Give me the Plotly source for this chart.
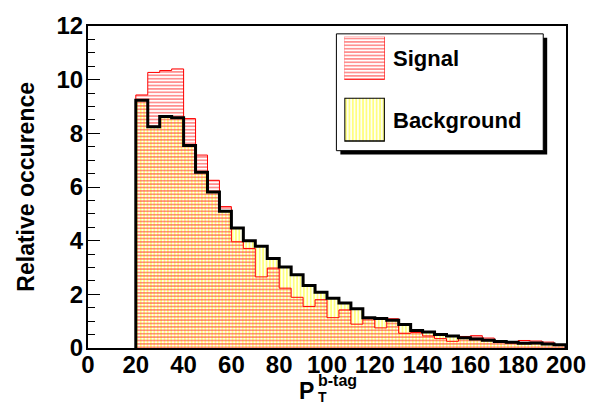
import plotly.graph_objects as go

# ---- data -------------------------------------------------------------
bin_left = [20, 25, 30, 35, 40, 45, 50, 55, 60, 65, 70, 75, 80, 85, 90, 95,
            100, 105, 110, 115, 120, 125, 130, 135, 140, 145, 150, 155, 160,
            165, 170, 175, 180, 185, 190, 195]
bin_width = 5

background = [9.23, 8.25, 8.63, 8.58, 7.55, 6.55, 5.81, 5.10, 4.47, 4.00,
              3.79, 3.34, 3.02, 2.73, 2.33, 2.08, 1.85, 1.68, 1.46, 1.13,
              1.10, 1.03, 0.88, 0.65, 0.60, 0.50, 0.45, 0.38, 0.34, 0.29,
              0.24, 0.21, 0.18, 0.19, 0.15, 0.12]

signal = [9.43, 10.27, 10.34, 10.40, 8.55, 7.19, 6.25, 5.27, 3.96, 3.71,
          2.65, 2.98, 2.23, 1.89, 1.55, 1.80, 1.13, 1.42, 0.89, 1.09,
          0.75, 1.09, 0.55, 0.58, 0.45, 0.35, 0.25, 0.43, 0.46, 0.37,
          0.24, 0.18, 0.28, 0.26, 0.22, 0.12]

x_ticks = [0, 20, 40, 60, 80, 100, 120, 140, 160, 180, 200]
y_ticks = [0, 2, 4, 6, 8, 10, 12]

FONT = "Liberation Sans"
RED_HATCH = "#ff3030"
YEL_HATCH = "#ffff00"

centers = [b + bin_width / 2 for b in bin_left]


def step_xy(vals):
    xs = [bin_left[0]] + list(bin_left) + [bin_left[-1] + bin_width]
    ys = [0] + list(vals) + [0]
    return xs, ys


def bold(s):
    return "<b>%s</b>" % s


fig = go.Figure()

# filled histograms (hatch patterns)
fig.add_trace(go.Bar(
    x=centers, y=background, width=bin_width,
    marker=dict(color="rgba(0,0,0,0)", line=dict(width=0),
                pattern=dict(shape="|", fgcolor=YEL_HATCH, bgcolor="rgba(0,0,0,0)",
                             size=3.4, solidity=0.55)),
    showlegend=False, hoverinfo="skip"))
fig.add_trace(go.Bar(
    x=centers, y=signal, width=bin_width,
    marker=dict(color="rgba(0,0,0,0)", line=dict(width=0),
                pattern=dict(shape="-", fgcolor=RED_HATCH, bgcolor="rgba(0,0,0,0)",
                             size=3.4, solidity=0.45, fgopacity=0.6)),
    showlegend=False, hoverinfo="skip"))

# outlines
sx, sy = step_xy(signal)
fig.add_trace(go.Scatter(x=sx, y=sy, mode="lines", line=dict(color="red", width=1, shape="hv"),
                         showlegend=False, hoverinfo="skip"))
bx, by = step_xy(background)
fig.add_trace(go.Scatter(x=bx, y=by, mode="lines", line=dict(color="black", width=3, shape="hv"),
                         showlegend=False, hoverinfo="skip"))

# ---- legend swatches (own small axes) ---------------------------------
W, H = 598, 407
L, R, T, B = 88, 27, 20, 59
PW, PH = W - L - R, H - T - B


def px_x(p):
    return (p - L) / PW


def px_y(p):
    return (H - B - p) / PH


fig.add_trace(go.Bar(
    x=[0], y=[1], width=1, xaxis="x2", yaxis="y2",
    marker=dict(color="rgba(0,0,0,0)", line=dict(color="red", width=1),
                pattern=dict(shape="-", fgcolor=RED_HATCH, bgcolor="white",
                             size=3.4, solidity=0.45, fgopacity=0.6)),
    showlegend=False, hoverinfo="skip"))
fig.add_trace(go.Bar(
    x=[0], y=[1], width=1, xaxis="x3", yaxis="y3",
    marker=dict(color="rgba(0,0,0,0)", line=dict(color="black", width=2.5),
                pattern=dict(shape="|", fgcolor=YEL_HATCH, bgcolor="white",
                             size=3.4, solidity=0.55)),
    showlegend=False, hoverinfo="skip"))

hidden = dict(visible=False, fixedrange=True)
sw_x = [px_x(347), px_x(388)]

fig.update_layout(
    xaxis2=dict(domain=sw_x, range=[-0.5, 0.5], anchor="y2", **hidden),
    yaxis2=dict(domain=[px_y(75), px_y(31)], range=[0, 1], anchor="x2", **hidden),
    xaxis3=dict(domain=sw_x, range=[-0.5, 0.5], anchor="y3", **hidden),
    yaxis3=dict(domain=[px_y(138), px_y(93)], range=[0, 1], anchor="x3", **hidden),
)

# legend box with shadow
fig.add_shape(type="rect", xref="paper", yref="paper", layer="below",
              x0=px_x(343), x1=px_x(552), y0=px_y(151), y1=px_y(32),
              fillcolor="black", line=dict(width=0))
fig.add_shape(type="rect", xref="paper", yref="paper", layer="below",
              x0=px_x(339), x1=px_x(548), y0=px_y(147), y1=px_y(28),
              fillcolor="white", line=dict(color="black", width=1))

fig.add_annotation(text=bold("Signal"), xref="paper", yref="paper", x=px_x(394), y=px_y(53),
                   xanchor="left", yanchor="middle", showarrow=False,
                   font=dict(family=FONT, size=22, color="black"))
fig.add_annotation(text=bold("Background"), xref="paper", yref="paper", x=px_x(394), y=px_y(116),
                   xanchor="left", yanchor="middle", showarrow=False,
                   font=dict(family=FONT, size=22, color="black"))

# axis titles
fig.add_annotation(text=bold("Relative occurence"), xref="paper", yref="paper",
                   x=px_x(25), y=0.5, textangle=-90, showarrow=False,
                   xanchor="center", yanchor="middle",
                   font=dict(family=FONT, size=23, color="black"))
fig.add_annotation(text=bold("P"), xref="paper", yref="paper", x=px_x(318), y=px_y(392),
                   xanchor="right", yanchor="middle", showarrow=False,
                   font=dict(family=FONT, size=23, color="black"))
fig.add_annotation(text=bold("b-tag"), xref="paper", yref="paper", x=px_x(318), y=px_y(381),
                   xanchor="left", yanchor="middle", showarrow=False,
                   font=dict(family=FONT, size=16, color="black"))
fig.add_annotation(text=bold("T"), xref="paper", yref="paper", x=px_x(318), y=px_y(398),
                   xanchor="left", yanchor="middle", showarrow=False,
                   font=dict(family=FONT, size=14, color="black"))

fig.update_layout(
    width=W, height=H,
    margin=dict(l=L, r=R, t=T, b=B, pad=0),
    paper_bgcolor="white", plot_bgcolor="rgba(0,0,0,0)",
    barmode="overlay", bargap=0,
    xaxis=dict(range=[0, 200], tickvals=x_ticks, ticktext=[bold(v) for v in x_ticks],
               ticks="", showgrid=False, zeroline=False, ticklabelstandoff=-6,
               showline=True, linecolor="black", linewidth=2, mirror=True,
               tickfont=dict(family=FONT, size=24, color="black")),
    yaxis=dict(range=[0, 12], tickvals=y_ticks, ticktext=[bold(v) for v in y_ticks],
               ticks="inside", ticklen=12, tickwidth=1, ticklabelstandoff=-2,
               tickcolor="black", showgrid=False, zeroline=False,
               showline=True, linecolor="black", linewidth=2, mirror=True,
               minor=dict(dtick=0.5, ticks="inside", ticklen=7, tickcolor="black", showgrid=False),
               tickfont=dict(family=FONT, size=24, color="black")),
    showlegend=False,
)

fig.write_html("out.html")
